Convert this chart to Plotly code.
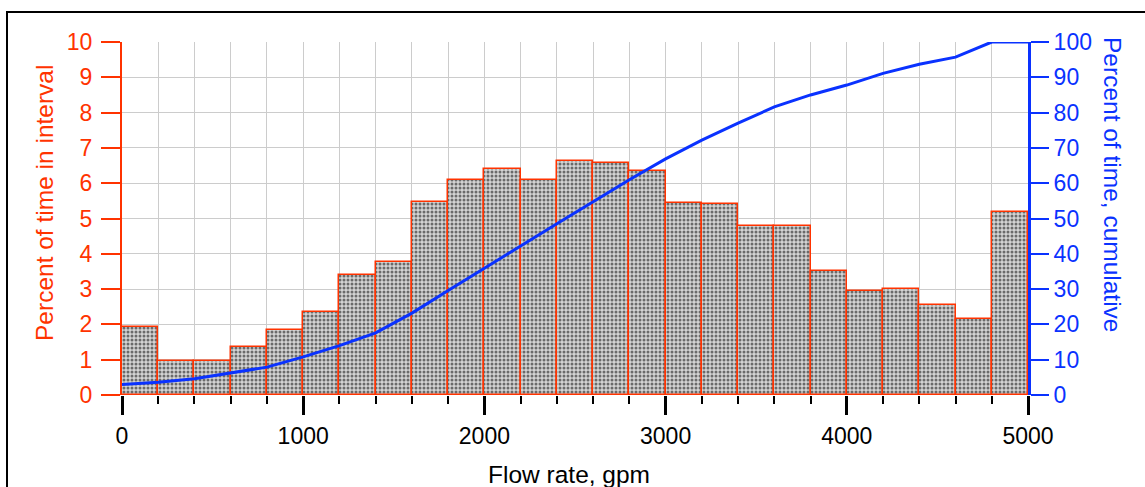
import plotly.graph_objects as go

# ---- data ----
bin_start = [0, 200, 400, 600, 800, 1000, 1200, 1400, 1600, 1800, 2000, 2200, 2400,
             2600, 2800, 3000, 3200, 3400, 3600, 3800, 4000, 4200, 4400, 4600, 4800]
bin_width = 200
pct_interval = [1.92, 0.95, 0.95, 1.35, 1.85, 2.35, 3.40, 3.78, 5.48, 6.08, 6.40, 6.08, 6.62,
                6.57, 6.35, 5.45, 5.42, 4.78, 4.78, 3.52, 2.95, 3.00, 2.55, 2.15, 5.18]

cum_flow = [0, 200, 400, 600, 800, 1000, 1200, 1400, 1600, 1800, 2000, 2200, 2400, 2600,
            2800, 3000, 3200, 3400, 3600, 3800, 4000, 4200, 4400, 4600, 4800, 5000]
pct_cumulative = [3.0, 3.6, 4.6, 6.2, 7.9, 10.8, 14.0, 17.6, 23.2, 29.6, 36.0, 42.2, 48.5,
                  54.8, 61.0, 66.9, 72.2, 77.0, 81.6, 85.0, 87.8, 91.1, 93.7, 95.7, 100.0, 100.0]

RED = "#ff3300"
BLUE = "#0a32ff"
GRID = "#cccccc"
FONT = "Liberation Sans, Arial, sans-serif"
FS = 23
FS_TITLE = 24.5

bar_centers = [s + bin_width / 2 for s in bin_start]

fig = go.Figure()
fig.add_trace(go.Bar(
    x=bar_centers, y=pct_interval, width=[bin_width] * len(bin_start),
    marker=dict(color="white", line=dict(color=RED, width=1.5),
                pattern=dict(shape=".", fgcolor="black", bgcolor="#d4d4d4", size=4, solidity=0.45)),
    yaxis="y", showlegend=False, hoverinfo="skip",
))
fig.add_trace(go.Scatter(
    x=cum_flow, y=pct_cumulative, mode="lines", yaxis="y2",
    line=dict(color=BLUE, width=3), showlegend=False, hoverinfo="skip",
))

# figure fills the page (body margin removed in post_script)
W, H = 1145, 487
L, T = 122, 42
R = W - 1028
B = H - 395
pw, ph = W - L - R, H - T - B

def px(xp):
    return (xp - L) / pw

def py(yp):
    return (H - B - yp) / ph

fig.update_layout(
    width=W, height=H,
    margin=dict(l=L, r=R, t=T, b=B, pad=0),
    paper_bgcolor="white", plot_bgcolor="white",
    font=dict(family=FONT, size=FS, color="black"),
    bargap=0,
    xaxis=dict(range=[0, 5000], tickmode="linear", tick0=0, dtick=1000,
               ticks="outside", ticklen=19, tickwidth=3, tickcolor="black",
               showgrid=True, gridcolor=GRID, gridwidth=1,
               showline=False, zeroline=False, ticklabelstandoff=1,
               tickfont=dict(size=FS, color="black"),
               minor=dict(tick0=0, dtick=200, ticks="outside", ticklen=8, tickwidth=2,
                          tickcolor="black", showgrid=True, gridcolor=GRID, gridwidth=1)),
    yaxis=dict(range=[0, 10], tickmode="linear", tick0=0, dtick=1,
               ticks="outside", ticklen=19, tickwidth=2, tickcolor=RED,
               showline=True, linecolor=RED, linewidth=2,
               showgrid=True, gridcolor=GRID, gridwidth=1, zeroline=False,
               ticklabelstandoff=4,
               tickfont=dict(size=FS, color=RED)),
    yaxis2=dict(range=[0, 100], tickmode="linear", tick0=0, dtick=10,
                overlaying="y", side="right", anchor="x",
                ticks="outside", ticklen=18, tickwidth=2, tickcolor=BLUE,
                showline=True, linecolor=BLUE, linewidth=3,
                showgrid=False, zeroline=False,
                tickfont=dict(size=FS, color=BLUE)),
    annotations=[
        dict(text="Percent of time in interval", xref="paper", yref="paper",
             x=px(45), y=py(203), xanchor="center", yanchor="middle",
             textangle=-90, showarrow=False, font=dict(size=FS_TITLE, color=RED)),
        dict(text="Percent of time, cumulative", xref="paper", yref="paper",
             x=px(1113), y=py(184), xanchor="center", yanchor="middle",
             textangle=90, showarrow=False, font=dict(size=FS_TITLE, color=BLUE)),
        dict(text="Flow rate, gpm", xref="paper", yref="paper",
             x=px(569), y=py(474), xanchor="center", yanchor="middle",
             showarrow=False, font=dict(size=FS_TITLE, color="black")),
    ],
    shapes=[
        dict(type="rect", xref="paper", yref="paper",
             x0=px(7), x1=px(1200), y0=py(540), y1=py(12),
             line=dict(color="black", width=2), fillcolor="rgba(0,0,0,0)", layer="above"),
    ],
)

fig.write_html("out.html",
               config={"displayModeBar": False},
               post_script="document.body.style.margin='0';document.body.style.overflow='hidden';")
